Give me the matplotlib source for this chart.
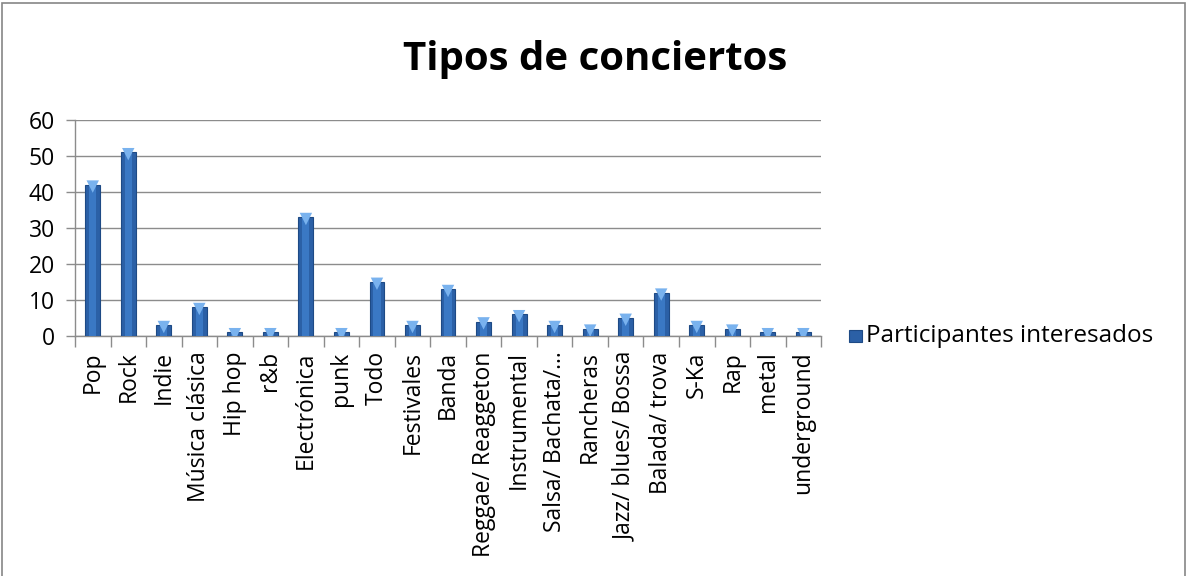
import matplotlib
matplotlib.use("Agg")
import matplotlib.pyplot as plt
from matplotlib.patches import Rectangle
import numpy as np

# ── Data ──────────────────────────────────────────────────────
categories = ["Pop", "Rock", "Indie", "Música clásica", "Hip hop", "r&b",
              "Electrónica", "punk", "Todo", "Festivales", "Banda",
              "Reggae/ Reaggeton", "Instrumental", "Salsa/ Bachata/…",
              "Rancheras", "Jazz/ blues/ Bossa", "Balada/ trova", "S-Ka",
              "Rap", "metal", "underground"]
participantes = [42, 51, 3, 8, 1, 1, 33, 1, 15, 3, 13, 4, 6, 3, 2, 5, 12, 3, 2, 1, 1]
y_ticks = [0, 10, 20, 30, 40, 50, 60]
series_name = "Participantes interesados"

plt.rcParams["font.family"] = ["Open Sans", "DejaVu Sans"]

BAR = "#2B60A6"
MID = "#3A78C4"
EDGE = "#1E4A85"
GRID = "#8C8C8C"
FS = 16.5

fig = plt.figure(figsize=(11.9, 5.76), dpi=100, facecolor="white")
ax = fig.add_axes([0.063, 0.4167, 0.627, 0.375])

x = np.arange(len(categories))
vals = np.array(participantes)
ax.bar(x, vals, width=0.42, color=BAR, edgecolor=EDGE,
       linewidth=0.8, zorder=3)
# lighter centre stripe to mimic the bevel gradient
ax.bar(x, vals, width=0.2, color=MID, edgecolor="none", zorder=3.5)
# light bevel triangle on top of each bar
ax.scatter(x, vals - 0.5, marker="v", s=80,
           color="#79B2EE", edgecolor="none", zorder=4)

ax.set_xlim(-0.5, len(categories) - 0.5)
ax.set_ylim(0, 60)
ax.set_yticks(y_ticks)
ax.yaxis.grid(True, color=GRID, linewidth=1.0, zorder=0)
ax.set_axisbelow(True)

ax.set_xticks(x)
ax.set_xticklabels(categories, rotation=90, fontsize=FS)
ax.tick_params(axis="x", length=0, pad=11)
ax.set_xticks(np.arange(-0.5, len(categories)), minor=True)
ax.tick_params(axis="x", which="minor", length=8, color=GRID, width=1)
ax.tick_params(axis="y", labelsize=FS, length=6.5, color=GRID, width=1, pad=8)

for s in ["top", "right"]:
    ax.spines[s].set_visible(False)
for s in ["left", "bottom"]:
    ax.spines[s].set_color(GRID)
    ax.spines[s].set_linewidth(1.0)

fig.text(0.5, 0.896, "Tipos de conciertos", ha="center", va="center",
         fontsize=29, fontweight="bold")

# legend
fig.patches.append(Rectangle((0.7135, 0.406), 0.0105, 0.021,
                             transform=fig.transFigure, facecolor=BAR,
                             edgecolor=EDGE, linewidth=0.8))
fig.text(0.728, 0.416, series_name, ha="left", va="center", fontsize=17.5)

# chart border
fig.patches.append(Rectangle((0.002, -0.01), 0.994, 1.005,
                             transform=fig.transFigure, fill=False,
                             edgecolor="#868686", linewidth=1.2))

fig.savefig("out.png", dpi=100, facecolor="white")
